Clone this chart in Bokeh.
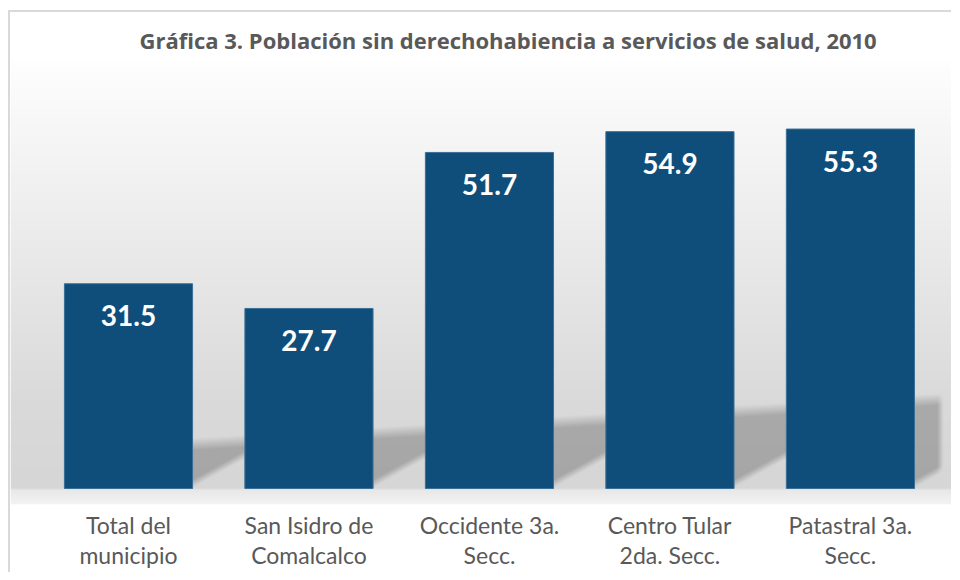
import numpy as np
from bokeh.plotting import figure
from bokeh.models import Range1d, FixedTicker
from bokeh.core.properties import value
from bokeh.embed import file_html
from bokeh.resources import INLINE

# ---------------- data ----------------
categories = ["Total del\nmunicipio", "San Isidro de\nComalcalco", "Occidente 3a.\nSecc.",
              "Centro Tular\n2da. Secc.", "Patastral 3a.\nSecc."]
values = [31.5, 27.7, 51.7, 54.9, 55.3]
title_text = "Gráfica 3. Población sin derechohabiencia a servicios de salud, 2010"

# ---------------- style ----------------
BAR = "#0F4D7A"
TXT = "#595959"
FONT = "Lato"

xs = list(range(len(categories)))
labels = [f"{v:.1f}" for v in values]
bar_w = 0.71

x_range = Range1d(-0.6537, 4.560)
y_range = Range1d(-2.46, 66.0)

fw, fh = 941, 445
p = figure(frame_width=fw, frame_height=fh, x_range=x_range, y_range=y_range,
           output_backend="svg", toolbar_location=None,
           min_border_left=0, min_border_right=0, min_border_top=47, min_border_bottom=10)
p.margin = (10, 0, 0, 8)
p.styles = {"border-top": "2px solid #d9d9d9", "border-left": "2px solid #d9d9d9"}

p.title.text = title_text
p.title.align = "left"
p.title.offset = 129
p.title.text_font = "Open Sans"
p.title.text_font_style = "bold"
p.title.text_font_size = "22px"
p.title.text_color = TXT

p.background_fill_color = "white"
p.border_fill_color = "white"
p.outline_line_color = None
p.grid.visible = False
p.yaxis.visible = False

# ---------------- gradient background with soft shadow (style only) ----------------
ppx = fw / (x_range.end - x_range.start)
ppy = fh / (y_range.end - y_range.start)
cols = np.arange(fw) + 0.5
rows = np.arange(fh) + 0.5
C, R = np.meshgrid(cols, rows)           # frame-local pixels, R from top
base_px = (y_range.end - 0) * ppy         # baseline row
def xpx(xv):
    return (xv - x_range.start) * ppx
g = np.interp(R - base_px, [-429, -409, -89, 0, 1, 16], [255, 252, 218, 214, 232, 244])
lefts = [xpx(x - bar_w / 2) for x in xs]
rights = [xpx(x + bar_w / 2) for x in xs]
band_top = base_px - 46 - (C - 210) * 0.06
upper = np.clip((R - (band_top - 6)) / 12.0, 0, 1)
lower = np.zeros_like(C)
lower[C >= lefts[0]] = 1.0
for i, r in enumerate(rights):
    nxt = lefts[i + 1] if i + 1 < len(lefts) else r + 40
    diag = base_px - 5 - (C - r) * 0.55
    soft = np.clip((diag - R) / 8.0 + 0.5, 0, 1)
    sel = (C > r) & (C < nxt)
    lower[sel] = soft[sel]
rightfade = np.clip((rights[-1] + 29 - C) / 6.0, 0, 1)
dark = 48 * upper * lower * rightfade * (R <= base_px)
g = np.clip(g - dark, 0, 255).astype(np.uint8)
img = np.empty((fh, fw), dtype=np.uint32)
view = img.view(dtype=np.uint8).reshape((fh, fw, 4))
view[..., 0] = g
view[..., 1] = g
view[..., 2] = g
view[..., 3] = 255
p.image_rgba(image=[img[::-1]], x=x_range.start, y=y_range.start,
             dw=x_range.end - x_range.start, dh=y_range.end - y_range.start)

# ---------------- bars ----------------
p.vbar(x=xs, top=values, bottom=0, width=bar_w, fill_color=BAR,
       line_color="#3A6F98", line_width=1)

p.text(x=xs, y=values, text=labels, y_offset=32, text_align="center",
       text_baseline="middle", text_color="white", text_font=value(FONT),
       text_font_style="bold", text_font_size="28px")

# ---------------- x axis ----------------
p.xaxis.ticker = FixedTicker(ticks=xs)
p.xaxis.major_label_overrides = {x: c for x, c in zip(xs, categories)}
p.xaxis.axis_line_color = None
p.xaxis.major_tick_line_color = None
p.xaxis.minor_tick_line_color = None
p.xaxis.major_label_standoff = 0
p.xaxis.major_label_text_font = FONT
p.xaxis.major_label_text_font_size = "23px"
p.xaxis.major_label_text_color = TXT
p.xaxis.major_label_text_line_height = 1.1

open("out.html", "w").write(file_html(p, INLINE))
